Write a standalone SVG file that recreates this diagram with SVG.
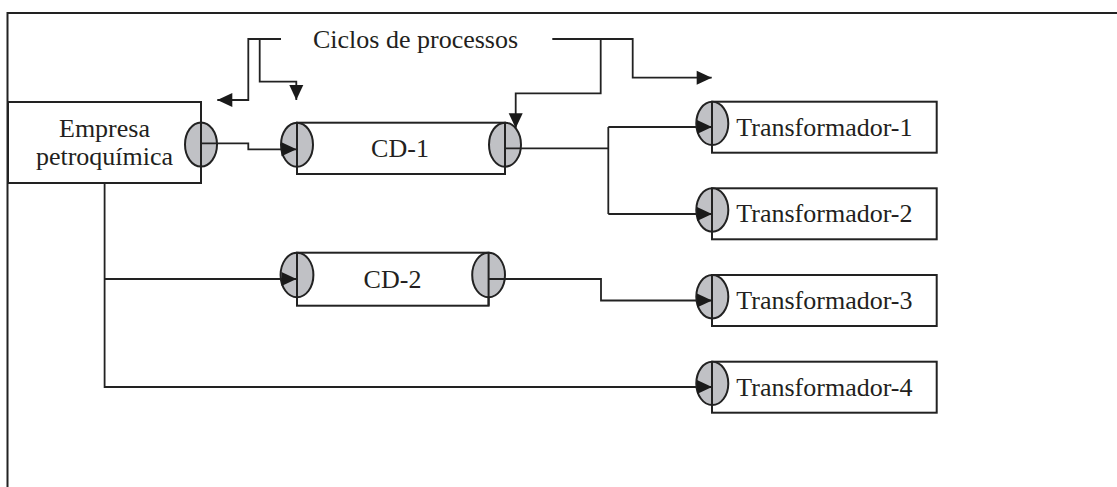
<svg xmlns="http://www.w3.org/2000/svg" width="1117" height="487" viewBox="0 0 1117 487">
  <style>
    .frame { fill: none; stroke: #222; stroke-width: 2; }
    .box { fill: #fff; stroke: #222; stroke-width: 2; }
    .edge { fill: none; stroke: #222; stroke-width: 2; }
    .port { fill: #c0c1c5; stroke: #222; stroke-width: 2; }
    .wire { fill: none; stroke: #222; stroke-width: 1.8; }
    .label { font-family: "Liberation Serif", "Times New Roman", serif; font-size: 26px; fill: #231f20; }
    .mid { text-anchor: middle; }
  </style>
  <defs>
    <marker id="tip" markerUnits="userSpaceOnUse" markerWidth="16" markerHeight="16" refX="15" refY="7" orient="auto" overflow="visible">
      <path d="M0,0 L15,7 L0,14 Z" fill="#1a1a1a"/>
    </marker>
  </defs>

  <rect width="1117" height="487" fill="#fff"/>
  <!-- outer frame (open on the right and bottom) -->
  <rect class="frame" x="7.5" y="13" width="1200" height="600"/>

  <!-- caption -->
  <text class="label" x="313" y="48">Ciclos de processos</text>

  <!-- Empresa petroquímica -->
  <g id="empresa">
    <rect class="box" x="8" y="102" width="193" height="81"/>
    <ellipse class="port" cx="201" cy="144.5" rx="16" ry="22"/>
    <line class="edge" x1="201" y1="122.5" x2="201" y2="166.5"/>
    <text class="label mid" x="104.5" y="137">Empresa</text>
    <text class="label mid" x="104.5" y="165">petroquímica</text>
  </g>

  <!-- CD-1 -->
  <g id="cd1">
    <rect class="box" x="297" y="122.7" width="208" height="51.3"/>
    <ellipse class="port" cx="297" cy="144.7" rx="16" ry="22"/>
    <ellipse class="port" cx="505" cy="144.7" rx="16" ry="22"/>
    <path class="edge" d="M297,122.7 V174 M505,122.7 V174"/>
    <text class="label mid" x="400" y="156.7">CD-1</text>
  </g>

  <!-- CD-2 -->
  <g id="cd2">
    <rect class="box" x="297" y="252.7" width="191.6" height="53"/>
    <ellipse class="port" cx="297" cy="275" rx="16.4" ry="22.3"/>
    <ellipse class="port" cx="488.6" cy="275" rx="16.4" ry="22.3"/>
    <path class="edge" d="M297,252.7 V305.7 M488.6,252.7 V305.7"/>
    <text class="label mid" x="392.5" y="288.3">CD-2</text>
  </g>

  <!-- Transformadores -->
  <g id="transformador1">
    <rect class="box" x="712" y="101.7" width="224.7" height="51"/>
    <ellipse class="port" cx="712.3" cy="123.4" rx="16" ry="21.7"/>
    <line class="edge" x1="712" y1="101.7" x2="712" y2="152.7"/>
    <text class="label mid" x="824.4" y="136">Transformador-1</text>
  </g>
  <g id="transformador2">
    <rect class="box" x="712" y="188.3" width="224.7" height="51"/>
    <ellipse class="port" cx="712.3" cy="210" rx="16" ry="21.7"/>
    <line class="edge" x1="712" y1="188.3" x2="712" y2="239.3"/>
    <text class="label mid" x="824.4" y="222.3">Transformador-2</text>
  </g>
  <g id="transformador3">
    <rect class="box" x="712" y="275" width="224.7" height="51"/>
    <ellipse class="port" cx="712.3" cy="296.7" rx="16" ry="21.7"/>
    <line class="edge" x1="712" y1="275" x2="712" y2="326"/>
    <text class="label mid" x="824.4" y="309">Transformador-3</text>
  </g>
  <g id="transformador4">
    <rect class="box" x="712" y="361.7" width="224.7" height="51"/>
    <ellipse class="port" cx="712.3" cy="383.4" rx="16" ry="21.7"/>
    <line class="edge" x1="712" y1="361.7" x2="712" y2="412.7"/>
    <text class="label mid" x="824.4" y="395.7">Transformador-4</text>
  </g>

  <!-- connectors -->
  <g id="connectors">
    <path class="wire" d="M201,143.3 H248.3 V149.3 H296.5" marker-end="url(#tip)"/>
    <path class="wire" d="M505,148.3 H608.3"/>
    <path class="wire" d="M608.3,127 V214"/>
    <path class="wire" d="M608.3,127 H712" marker-end="url(#tip)"/>
    <path class="wire" d="M608.3,214 H712" marker-end="url(#tip)"/>
    <path class="wire" d="M104.6,183 V387 H712" marker-end="url(#tip)"/>
    <path class="wire" d="M104.6,279 H296.5" marker-end="url(#tip)"/>
    <path class="wire" d="M488.6,279 H601 V300.5 H712" marker-end="url(#tip)"/>
    <path class="wire" d="M281,39 H248.3 V100 H217.3" marker-end="url(#tip)"/>
    <path class="wire" d="M259.7,39 V81.7 H296.3 V100" marker-end="url(#tip)"/>
    <path class="wire" d="M552.3,39 H632.7 V77.7 H711.7" marker-end="url(#tip)"/>
    <path class="wire" d="M600.7,39 V93.3 H515.7 V128.3" marker-end="url(#tip)"/>
  </g>
</svg>
